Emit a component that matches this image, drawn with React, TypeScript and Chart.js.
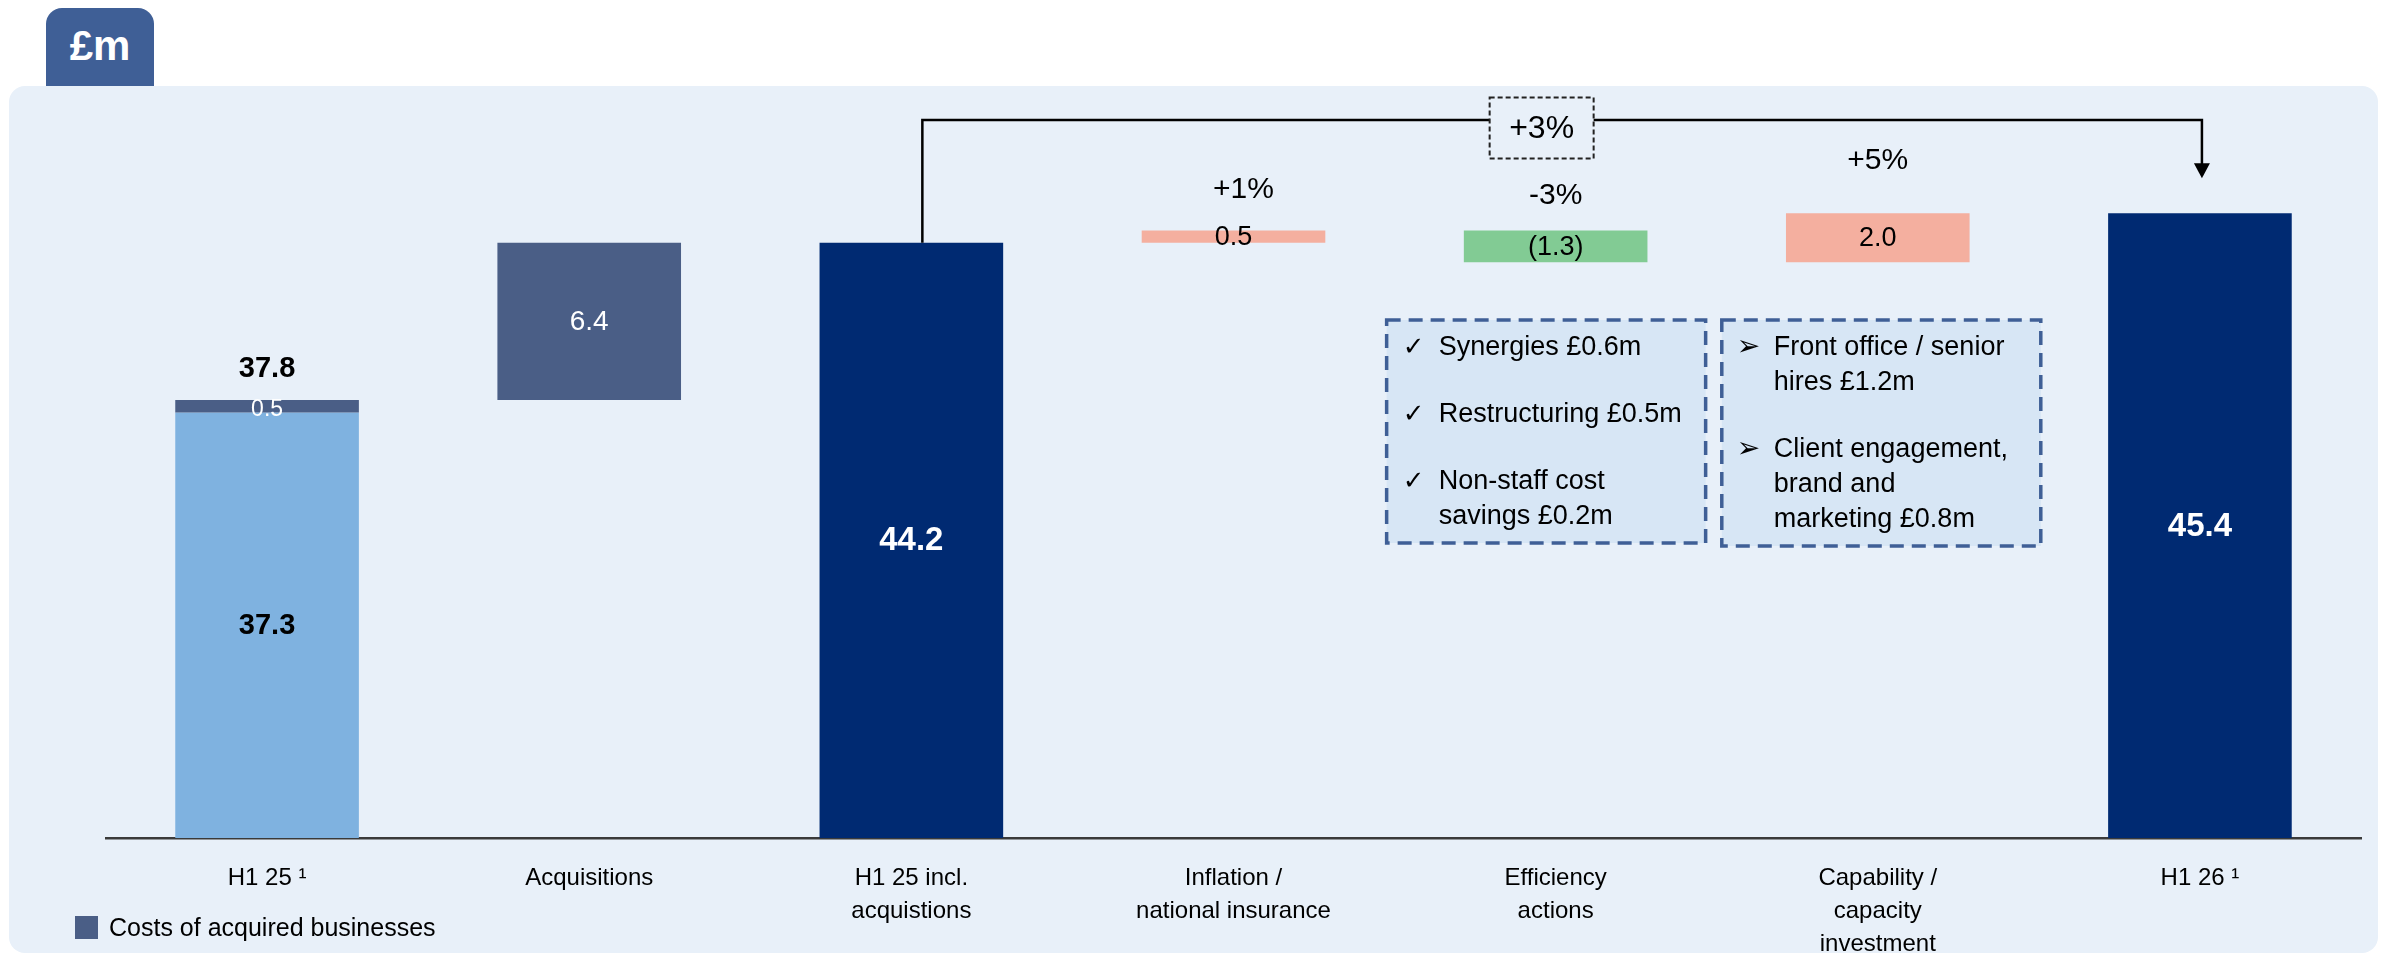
import React, { useEffect, useRef } from "react";
import { Chart, registerables } from "chart.js";

Chart.register(...registerables);

const FONT = '"Liberation Sans", Arial, Helvetica, sans-serif';

// ---------- data ----------
const categories: string[][] = [
  ["H1 25 ¹"],
  ["Acquisitions"],
  ["H1 25 incl.", "acquistions"],
  ["Inflation /", "national insurance"],
  ["Efficiency", "actions"],
  ["Capability /", "capacity", "investment"],
  ["H1 26 ¹"],
];

// floating bars (start, end) in £m
const barStart = [20, 37.8, 20, 44.2, 43.4, 43.4, 20];
const barEnd = [37.3, 44.2, 44.2, 44.7, 44.7, 45.4, 45.4];

// costs of acquired businesses (stacked on H1 25)
const acquiredStart = [37.3, null, null, null, null, null, null];
const acquiredEnd = [37.8, null, null, null, null, null, null];

const valueLabels = ["37.3", "6.4", "44.2", "0.5", "(1.3)", "2.0", "45.4"];
const acquiredLabel = "0.5";
const h1TotalLabel = "37.8";
const pctLabels = ["", "", "", "+1%", "-3%", "+5%", ""];
const bridgeLabel = "+3%";

const efficiencyNotes = [
  ["Synergies £0.6m"],
  ["Restructuring £0.5m"],
  ["Non-staff cost", "savings £0.2m"],
];
const capabilityNotes = [
  ["Front office / senior", "hires £1.2m"],
  ["Client engagement,", "brand and", "marketing £0.8m"],
];

const legendLabel = "Costs of acquired businesses";
const axisMin = 20;
const axisMax = 50;

// ---------- colours ----------
const C_LIGHT = "#7FB2E0";
const C_SLATE = "#4A5E86";
const C_NAVY = "#002A72";
const C_SALMON = "#F4AF9F";
const C_GREEN = "#82CB94";
const C_PANEL = "#E8F0F9";
const C_TAB = "#3F5F96";
const C_NOTE_FILL = "#D7E6F5";
const C_NOTE_BORDER = "#3F5F96";

const barColors = [C_LIGHT, C_SLATE, C_NAVY, C_SALMON, C_GREEN, C_SALMON, C_NAVY];

const labelStyles = [
  { font: `bold 29px ${FONT}`, color: "#000" },
  { font: `28px ${FONT}`, color: "#fff" },
  { font: `bold 33px ${FONT}`, color: "#fff" },
  { font: `27px ${FONT}`, color: "#000" },
  { font: `27px ${FONT}`, color: "#000" },
  { font: `27px ${FONT}`, color: "#000" },
  { font: `bold 33px ${FONT}`, color: "#fff" },
];
const pctOffsets = [0, 0, 0, 41, 35, 52, 0];

const overlayPlugin = {
  id: "overlay",
  afterDatasetsDraw(chart: any) {
    const ctx: CanvasRenderingContext2D = chart.ctx;
    const meta0 = chart.getDatasetMeta(0);
    const meta1 = chart.getDatasetMeta(1);
    const xs = chart.scales.x;
    const area = chart.chartArea;
    ctx.save();
    ctx.textAlign = "center";
    ctx.textBaseline = "middle";

    // value labels
    meta0.data.forEach((bar: any, i: number) => {
      const top = Math.min(bar.y, bar.base);
      const bottom = Math.max(bar.y, bar.base);
      ctx.font = labelStyles[i].font;
      ctx.fillStyle = labelStyles[i].color;
      ctx.fillText(valueLabels[i], bar.x, (top + bottom) / 2 + 1);
      if (pctLabels[i]) {
        ctx.font = `30px ${FONT}`;
        ctx.fillStyle = "#000";
        ctx.fillText(pctLabels[i], bar.x + (i === 3 ? 10 : 0), top - pctOffsets[i]);
      }
    });

    // acquired band labels
    const band = meta1.data[0];
    if (band) {
      const bTop = Math.min(band.y, band.base);
      const bBot = Math.max(band.y, band.base);
      ctx.font = `23px ${FONT}`;
      ctx.fillStyle = "#fff";
      ctx.fillText(acquiredLabel, band.x, (bTop + bBot) / 2 + 3);
      ctx.font = `bold 29px ${FONT}`;
      ctx.fillStyle = "#000";
      ctx.fillText(h1TotalLabel, band.x, bTop - 31);
    }

    // bridge bracket
    const b3 = meta0.data[2];
    const b7 = meta0.data[6];
    const x1 = b3.x + 11;
    const yTop = area.top + 20;
    const y1 = Math.min(b3.y, b3.base);
    const x2 = b7.x + 2;
    const tipY = Math.min(b7.y, b7.base) - 35;
    ctx.strokeStyle = "#000";
    ctx.lineWidth = 2.5;
    ctx.beginPath();
    ctx.moveTo(x1, y1);
    ctx.lineTo(x1, yTop);
    ctx.lineTo(x2, yTop);
    ctx.lineTo(x2, tipY - 14);
    ctx.stroke();
    ctx.fillStyle = "#000";
    ctx.beginPath();
    ctx.moveTo(x2 - 8, tipY - 15);
    ctx.lineTo(x2 + 8, tipY - 15);
    ctx.lineTo(x2, tipY);
    ctx.closePath();
    ctx.fill();

    // +3% box
    const bx = xs.getPixelForValue(4) - 14;
    const bw = 104;
    const bh = 61;
    const by = yTop + 8;
    ctx.fillStyle = C_PANEL;
    ctx.fillRect(bx - bw / 2, by - bh / 2, bw, bh);
    ctx.setLineDash([5, 3]);
    ctx.lineWidth = 2;
    ctx.strokeStyle = "#222";
    ctx.strokeRect(bx - bw / 2, by - bh / 2, bw, bh);
    ctx.setLineDash([]);
    ctx.font = `32px ${FONT}`;
    ctx.fillStyle = "#000";
    ctx.fillText(bridgeLabel, bx, by + 1);

    // note boxes
    const drawNote = (
      left: number,
      top: number,
      w: number,
      h: number,
      bullet: string,
      bulletSize: number,
      bulletDx: number,
      textDx: number,
      items: string[][],
      itemYs: number[]
    ) => {
      ctx.fillStyle = C_NOTE_FILL;
      ctx.fillRect(left, top, w, h);
      ctx.setLineDash([14, 8]);
      ctx.lineWidth = 3.5;
      ctx.strokeStyle = C_NOTE_BORDER;
      ctx.strokeRect(left, top, w, h);
      ctx.setLineDash([]);
      ctx.textAlign = "left";
      ctx.fillStyle = "#000";
      items.forEach((lines, k) => {
        const y0 = top + itemYs[k];
        ctx.font = `${bulletSize}px "DejaVu Sans", ${FONT}`;
        ctx.fillText(bullet, left + bulletDx, y0);
        ctx.font = `27px ${FONT}`;
        lines.forEach((ln, j) => {
          ctx.fillText(ln, left + textDx, y0 + j * 35);
        });
      });
      ctx.textAlign = "center";
    };
    const noteTop = area.top + 220;
    drawNote(xs.getPixelForValue(4) - 169, noteTop, 319, 223, "✓", 26, 16, 52, efficiencyNotes, [28, 95, 162]);
    drawNote(xs.getPixelForValue(5) - 156, noteTop, 319, 226, "➢", 28, 15, 52, capabilityNotes, [28, 130]);

    // legend
    const ds1 = chart.data.datasets[1];
    ctx.fillStyle = ds1.backgroundColor;
    ctx.fillRect(75, 916, 23, 23);
    ctx.textAlign = "left";
    ctx.fillStyle = "#000";
    ctx.font = `25px ${FONT}`;
    ctx.fillText(ds1.label, 109, 929);

    ctx.restore();
  },
};

export default function App() {
  const ref = useRef<HTMLCanvasElement | null>(null);

  useEffect(() => {
    if (!ref.current) return;
    const chart = new Chart(ref.current, {
      type: "bar",
      data: {
        labels: categories as any,
        datasets: [
          {
            label: "Cost bridge",
            data: barStart.map((s, i) => [s, barEnd[i]]) as any,
            backgroundColor: barColors,
            borderWidth: 0,
            grouped: false,
            barPercentage: 0.57,
            categoryPercentage: 1,
            order: 2,
          } as any,
          {
            label: legendLabel,
            data: acquiredStart.map((s, i) => (s === null ? null : [s, acquiredEnd[i] as number])) as any,
            backgroundColor: C_SLATE,
            borderWidth: 0,
            grouped: false,
            barPercentage: 0.57,
            categoryPercentage: 1,
            order: 1,
          } as any,
        ],
      },
      options: {
        responsive: false,
        animation: false,
        devicePixelRatio: 1,
        layout: { padding: { left: 106, right: 34, top: 100, bottom: 0 } },
        plugins: {
          legend: { display: false },
          tooltip: { enabled: false },
        },
        scales: {
          x: {
            grid: { display: false, drawTicks: false },
            border: { display: true, color: "#3a3a3a", width: 2.5 },
            ticks: {
              color: "#000",
              font: { family: FONT, size: 24, lineHeight: 1.375 },
              padding: 24,
              autoSkip: false,
              maxRotation: 0,
              minRotation: 0,
            },
            afterFit: (scale: any) => {
              scale.height = 117;
            },
          },
          y: {
            display: false,
            min: axisMin,
            max: axisMax,
          },
        },
      },
      plugins: [overlayPlugin],
    });
    return () => chart.destroy();
  }, []);

  return (
    <div style={{ position: "fixed", left: 0, top: 0, width: 2395, height: 955, background: "#fff", overflow: "hidden" }}>
      <div
        style={{
          position: "absolute",
          left: 46,
          top: 8,
          width: 108,
          height: 80,
          background: C_TAB,
          borderTopLeftRadius: 16,
          borderTopRightRadius: 16,
          color: "#fff",
          fontFamily: FONT,
          fontWeight: "bold",
          fontSize: 42,
          display: "flex",
          alignItems: "center",
          justifyContent: "center",
          paddingBottom: 4,
          boxSizing: "border-box",
        }}
      >
        £m
      </div>
      <div
        style={{
          position: "absolute",
          left: 9,
          top: 86,
          width: 2369,
          height: 867,
          background: C_PANEL,
          borderRadius: 16,
        }}
      />
      <canvas ref={ref} width={2395} height={955} style={{ position: "absolute", left: 0, top: 0 }} />
    </div>
  );
}
